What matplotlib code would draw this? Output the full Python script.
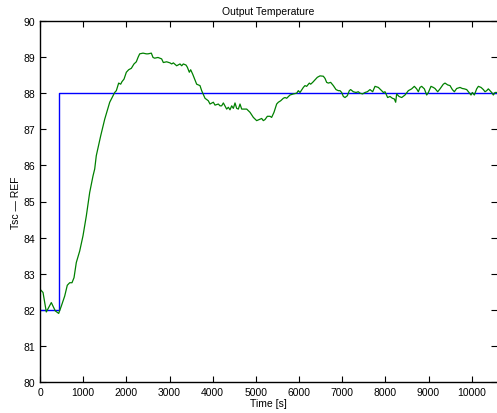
import numpy as np
import matplotlib
matplotlib.use("Agg")
import matplotlib.pyplot as plt

plt.rcParams['font.family'] = ['Liberation Sans', 'DejaVu Sans']

# measured outlet temperature
t_meas = [0, 70, 146, 262, 354, 433, 493, 572, 632, 688, 741, 788, 841, 920,
          996, 1073, 1151, 1228, 1267, 1304, 1406, 1499, 1615,
          1730, 1768, 1822, 1869, 1899, 1946, 2000, 2054, 2116, 2177, 2231, 2270,
          2309, 2386, 2463, 2502, 2579, 2618, 2656, 2733,
          2818, 2857, 2934, 3011, 3050, 3089, 3166, 3243, 3282, 3320, 3382, 3413,
          3459, 3490, 3536, 3629, 3706, 3745, 3822, 3899, 3938, 4015, 4054, 4131,
          4170, 4208, 4247, 4324, 4363, 4401, 4440, 4479, 4517, 4556, 4595, 4633,
          4672, 4788, 4865, 4942, 5019,
          5096, 5135, 5173, 5212, 5266, 5328, 5366, 5420, 5482, 5521, 5575, 5637,
          5675, 5714, 5791, 5868, 5945, 5984, 6023, 6100, 6138, 6177, 6239, 6270,
          6316, 6370, 6424, 6486, 6563, 6602, 6640, 6679, 6733, 6795, 6857, 6911,
          6949, 6988, 7027, 7065, 7119, 7165, 7196, 7258, 7320, 7374, 7413, 7474,
          7528, 7582, 7644, 7706,
          7760, 7837, 7914, 7953, 7992, 8053, 8107, 8162, 8208, 8239, 8262, 8316,
          8378, 8455, 8532, 8609, 8671, 8725, 8764, 8802, 8841, 8903, 8957, 8996,
          9057, 9111, 9150, 9212, 9266, 9343, 9382, 9443, 9498, 9552, 9598, 9652,
          9729, 9783, 9830, 9884, 9938, 9984, 10015, 10061, 10115, 10154, 10216,
          10270, 10308, 10347, 10385, 10424, 10463, 10501, 10540, 10586]
tsc = [82.57, 82.48, 81.94, 82.20, 81.97, 81.90, 82.10, 82.38, 82.68, 82.75,
       82.75, 82.89, 83.31, 83.63, 84.05, 84.60, 85.25, 85.71, 85.90, 86.27,
       86.82, 87.28, 87.75,
       88.02, 88.07, 88.28, 88.25, 88.32, 88.39, 88.58, 88.65, 88.69, 88.81,
       88.87, 88.99, 89.09, 89.11, 89.09, 89.09, 89.11, 88.99, 88.97, 88.99,
       88.95, 88.85, 88.87, 88.84, 88.81, 88.84, 88.76, 88.81, 88.76, 88.81,
       88.78, 88.72, 88.58, 88.65, 88.53, 88.25, 88.21, 88.07, 87.86, 87.79,
       87.70, 87.75, 87.67, 87.70, 87.65, 87.65, 87.73, 87.56, 87.61, 87.54,
       87.65, 87.58, 87.73, 87.58, 87.56, 87.70, 87.56, 87.56, 87.47, 87.33,
       87.24,
       87.28, 87.30, 87.24, 87.27, 87.36, 87.36, 87.33, 87.47, 87.70, 87.75,
       87.79, 87.86, 87.88, 87.86, 87.95, 87.98, 88.00, 88.07, 88.02, 88.16,
       88.21, 88.19, 88.28, 88.25, 88.30, 88.37, 88.44, 88.48, 88.47, 88.41,
       88.30, 88.28, 88.30, 88.21, 88.10, 88.07, 88.07, 88.02, 87.91, 87.88,
       87.93, 88.07, 88.10, 88.04, 88.02, 88.04, 88.00, 87.98, 88.02, 88.04,
       88.10, 88.04,
       88.19, 88.16, 88.07, 88.02, 88.04, 87.88, 87.91, 87.86, 87.84, 87.75,
       87.98, 87.91, 87.88, 87.95, 88.07, 88.12, 88.19, 88.12, 88.04, 88.16,
       88.19, 88.12, 87.95, 88.02, 88.19, 88.16, 88.13, 88.04, 88.12, 88.25,
       88.28, 88.23, 88.21, 88.10, 88.04, 88.13, 88.16, 88.13, 88.12, 88.10,
       88.02, 87.95, 88.02, 87.95, 88.12, 88.19, 88.16, 88.10, 88.04, 88.07,
       88.12, 88.07, 88.02, 87.95, 88.02, 88.02]

# setpoint step
t_ref = [0, 450, 450, 10586]
ref = [82, 82, 88, 88]

fig = plt.figure(figsize=(4.97, 4.14), dpi=100)
ax = fig.add_axes([40 / 497, 31 / 414, 457 / 497, 361 / 414])

ax.plot(t_ref, ref, color='#0000ff', lw=1.0)
ax.plot(t_meas, tsc, color='#008000', lw=0.9)

ax.set_xlim(0, 10586)
ax.set_ylim(80, 90)
ax.set_xticks(np.arange(0, 10001, 1000))
ax.set_yticks(np.arange(80, 91, 1))

ax.tick_params(direction='in', length=4, width=0.8, labelsize=7.5,
               top=True, right=True, pad=3.5)
for side in ('left', 'bottom', 'top'):
    ax.spines[side].set_linewidth(1.0)
ax.spines['right'].set_visible(False)

ax.set_title('Output Temperature', fontsize=7.5, pad=5)
ax.set_xlabel('Time [s]', fontsize=7.5, labelpad=1)
ax.set_ylabel('Tsc \u2014 REF', fontsize=7.5, labelpad=1.5)

fig.savefig('out.png', dpi=100)
